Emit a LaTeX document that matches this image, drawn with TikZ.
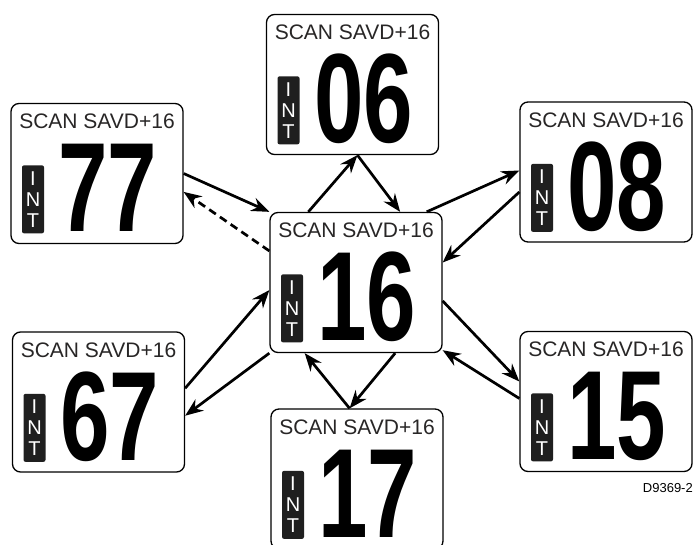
\documentclass[tikz,border=0pt]{standalone}
\usepackage{fontspec}
\setmainfont{Liberation Sans}
\usetikzlibrary{arrows.meta}
\definecolor{lcdtext}{RGB}{40,38,38}

\begin{document}
\begin{tikzpicture}[x=1pt, y=-1pt,
  chbox/.style={draw=black, line width=1.3pt, rounded corners=8pt, fill=white,
    minimum width=172pt, minimum height=140pt, inner sep=0pt},
  chtitle/.style={anchor=base, inner sep=0pt, text=lcdtext, font=\fontsize{21}{21}\selectfont},
  chdigits/.style={anchor=base, inner sep=0pt, font=\fontsize{127}{127}\selectfont\bfseries},
  intbadge/.style={fill=black!88, rounded corners=2pt, minimum width=22pt, minimum height=68pt,
    inner sep=0pt, text=white, align=center, font=\fontsize{20}{21}\selectfont},
  link/.style={line width=2.7pt, -{Stealth[length=18pt, width=14pt, inset=6pt]}}]

  % --- Page frame ---
  \clip (0,0) rectangle (693,545);

  % --- Channel displays ---
  \foreach \chan/\cx/\cy in {06/352.5/84.5, 77/97/173.5, 16/356/282.5, 08/606/172,
                             67/98.5/402, 15/606/401.5, 17/357/479} {
    \node[chbox] (ch\chan) at (\cx,\cy) {};
    \node[chtitle] (title\chan) at ([yshift=-26pt]ch\chan.north) {SCAN SAVD+16};
    \node[chdigits] (digits\chan) at ([xshift=11pt, yshift=-129pt]ch\chan.north) {\scalebox{0.7}[1]{\chan}};
    \node[intbadge] (int\chan) at ([xshift=-64pt, yshift=-96.5pt]ch\chan.north) {I\\N\\T};
  }

  % --- Scan links ---
  \draw[link] (ch77.east) -- (ch16.north west);
  \draw[link, dash pattern=on 8pt off 5pt] (ch16.160) -- (ch77.348);
  \draw[link] (ch16.124) -- (ch06.274);
  \draw[link] (ch06.274) -- (ch16.58);
  \draw[link] (ch16.45) -- (ch08.179);
  \draw[link] (ch08.193) -- (ch16.13);
  \draw[link] (ch16.348) -- (ch15.167);
  \draw[link] (ch15.178) -- (ch16.322);
  \draw[link] (ch17.96) -- (ch16.234);
  \draw[link] (ch16.299) -- (ch17.96);
  \draw[link] (ch16.south west) -- (ch67.351);
  \draw[link] (ch67.9) -- (ch16.185);

  % --- Drawing reference ---
  \node[anchor=base east, inner sep=0pt, font=\fontsize{13}{13}\selectfont] (drawingref) at (693,492) {D9369-2};
\end{tikzpicture}
\end{document}
